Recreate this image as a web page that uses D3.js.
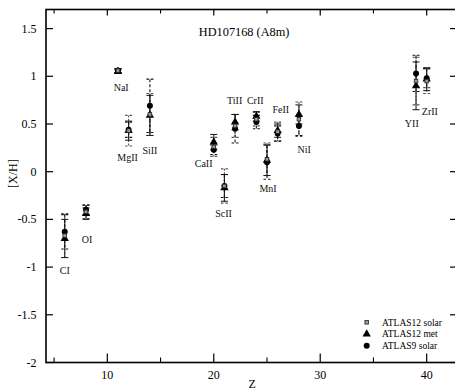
<!DOCTYPE html>
<html><head><meta charset="utf-8">
<script src="https://cdn.jsdelivr.net/npm/d3@7"></script>
<style>
html,body{margin:0;padding:0;background:#fff;}
svg{display:block;}
svg text{font-family:"Liberation Serif","Times New Roman",Times,serif;}
</style></head>
<body><svg id="c" width="455" height="392"></svg>
<script>
const elements = ["CI","OI","NaI","MgII","SiII","CaII","ScII","TiII","CrII","MnI","FeII","NiI","YII","ZrII"];
const Z = [6,8,11,12,14,20,21,22,24,25,26,28,39,40];
const atlas12Solar    = [-0.67,-0.42,1.06,0.43,0.60,0.26,-0.15,0.48,0.55,0.13,0.42,0.55,0.95,0.95];
const atlas12SolarErr = [0.23,0.07,0.02,0.16,0.22,0.10,0.18,0.12,0.07,0.17,0.10,0.18,0.25,0.13];
const atlas12Met      = [-0.70,-0.44,1.05,0.43,0.59,0.31,-0.17,0.52,0.58,0.12,0.43,0.60,0.90,0.97];
const atlas12MetErr   = [0.20,0.06,0.02,0.10,0.21,0.08,0.14,0.08,0.05,0.16,0.07,0.10,0.25,0.12];
const atlas9Solar     = [-0.63,-0.40,1.06,0.44,0.69,0.23,-0.15,0.45,0.52,0.10,0.40,0.48,1.03,0.98];
const atlas9SolarErr  = [0.18,0.05,0.02,0.08,0.28,0.05,0.12,0.15,0.07,0.18,0.08,0.10,0.19,0.10];
// label anchors in data units (Z, [X/H])
const labelZ = [6.0,8.1,11.3,11.9,14.0,19.05,20.92,21.96,23.9,25.1,26.3,28.5,38.6,40.3];
const labelV = [-1.07,-0.75,0.85,0.115,0.19,0.05,-0.48,0.71,0.71,-0.215,0.62,0.2,0.47,0.59];
const xTicks = [10,20,30,40];
const xMinor = [5,15,25,35];
const yTicks = [-2,-1.5,-1,-0.5,0,0.5,1,1.5];
const yTickLabels = ["-2","-1.5","-1","-0.5","0","0.5","1","1.5"];
const seriesNames = ["ATLAS12 solar","ATLAS12 met","ATLAS9 solar"];
const title = "HD107168 (A8m)";

const svg = d3.select("#c");
const FONT = "'Liberation Serif','Times New Roman',Times,serif";
const L=46, R=455, T=9.5, B=362.5;
const x = d3.scaleLinear().domain([4.24,42.66]).range([L,R]);
const y = d3.scaleLinear().domain([-2,1.7]).range([B,T]);

const series = [
  {name:seriesNames[0], v:atlas12Solar, e:atlas12SolarErr, stroke:"#555", dash:"2,1.5"},
  {name:seriesNames[1], v:atlas12Met, e:atlas12MetErr, stroke:"#222", dash:null},
  {name:seriesNames[2], v:atlas9Solar, e:atlas9SolarErr, stroke:"#111", dash:"3,2"}
];

// error bars
series.forEach(s=>{
  const g = svg.append("g");
  Z.forEach((z,i)=>{
    const cx = x(z), y1 = y(s.v[i]+s.e[i]), y2 = y(s.v[i]-s.e[i]);
    g.append("line").attr("x1",cx).attr("x2",cx).attr("y1",y1).attr("y2",y2)
      .attr("stroke",s.stroke).attr("stroke-width",1.1).attr("stroke-dasharray",s.dash);
    [y1,y2].forEach(yy=>{
      g.append("line").attr("x1",cx-3.5).attr("x2",cx+3.5).attr("y1",yy).attr("y2",yy)
        .attr("stroke",s.stroke).attr("stroke-width",1.1).attr("stroke-dasharray",s.dash?"2.5,2":null);
    });
  });
});

// markers
const circ = svg.append("g");
Z.forEach((z,i)=>circ.append("circle").attr("cx",x(z)).attr("cy",y(atlas9Solar[i])).attr("r",3).attr("fill","#000"));
const tri = svg.append("g");
Z.forEach((z,i)=>tri.append("path").attr("d",d3.symbol(d3.symbolTriangle,30)())
  .attr("transform",`translate(${x(z)},${y(atlas12Met[i])})`).attr("fill","#000"));
const sq = svg.append("g");
Z.forEach((z,i)=>sq.append("rect").attr("x",x(z)-1.8).attr("y",y(atlas12Solar[i])-1.8).attr("width",3.6).attr("height",3.6)
  .attr("fill","#999").attr("stroke","#222").attr("stroke-width",0.8));

function txt(g){ return g.append("text").attr("font-family",FONT); }

// element labels
elements.forEach((t,i)=>txt(svg).attr("x",x(labelZ[i])).attr("y",y(labelV[i]))
  .attr("text-anchor","middle").attr("font-size",10).attr("fill","#111").text(t));

// frame
const ax = svg.append("g").attr("stroke","#000").attr("fill","none");
ax.append("rect").attr("x",L).attr("y",T).attr("width",R-L+2).attr("height",B-T).attr("stroke-width",1.6);
xTicks.forEach(v=>{
  ax.append("line").attr("x1",x(v)).attr("x2",x(v)).attr("y1",B).attr("y2",B-9).attr("stroke-width",1.2);
  ax.append("line").attr("x1",x(v)).attr("x2",x(v)).attr("y1",T).attr("y2",T+6).attr("stroke-width",1.2);
});
xMinor.forEach(v=>{
  ax.append("line").attr("x1",x(v)).attr("x2",x(v)).attr("y1",B).attr("y2",B-5).attr("stroke-width",1.1);
  ax.append("line").attr("x1",x(v)).attr("x2",x(v)).attr("y1",T).attr("y2",T+4).attr("stroke-width",1.1);
});
yTicks.forEach(v=>{
  ax.append("line").attr("x1",L).attr("x2",L+7).attr("y1",y(v)).attr("y2",y(v)).attr("stroke-width",1.2);
  ax.append("line").attr("x1",R).attr("x2",R-5).attr("y1",y(v)).attr("y2",y(v)).attr("stroke-width",1.2);
});
// tick labels
xTicks.forEach(v=>txt(svg).attr("x",x(v)).attr("y",379).attr("text-anchor","middle")
  .attr("font-size",12).text(v));
yTicks.forEach((v,i)=>txt(svg).attr("x",36.5).attr("y",y(v)+4).attr("text-anchor","end")
  .attr("font-size",12).text(yTickLabels[i]));

// axis titles
txt(svg).attr("x",x(23.6)).attr("y",387.5).attr("text-anchor","middle").attr("font-size",12).text("Z");
txt(svg).attr("transform",`translate(17,${y(-0.02)}) rotate(-90)`).attr("text-anchor","middle")
  .attr("font-size",12).text("[X/H]");
txt(svg).attr("x",x(22.85)).attr("y",35.5).attr("text-anchor","middle").attr("font-size",12.3).text(title);

// legend
const lg = svg.append("g");
const ly0 = 322.3, ldy = 11.7, lmx = 366.7, ltx = 382;
lg.append("rect").attr("x",lmx-1.8).attr("y",ly0-1.8).attr("width",3.6).attr("height",3.6).attr("fill","#999").attr("stroke","#222").attr("stroke-width",0.8);
lg.append("path").attr("d",d3.symbol(d3.symbolTriangle,30)()).attr("transform",`translate(${lmx},${ly0+ldy})`).attr("fill","#000");
lg.append("circle").attr("cx",lmx).attr("cy",ly0+2*ldy).attr("r",3).attr("fill","#000");
seriesNames.forEach((n,i)=>txt(lg).attr("x",ltx).attr("y",ly0+i*ldy+3.3).attr("font-size",9.5).text(n));
</script></body></html>
